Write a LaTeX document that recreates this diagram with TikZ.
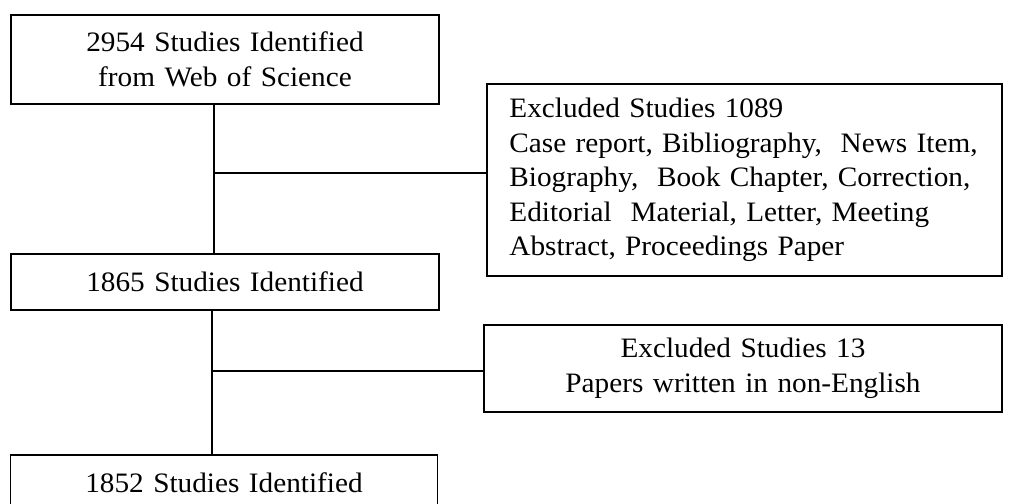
\documentclass[tikz,border=0pt]{standalone}
\usepackage{fontspec}
\setmainfont{Liberation Serif}[FakeStretch=1.04, WordSpace=1.3]
\usepackage{tikz}
\usetikzlibrary{calc}

\begin{document}
\begin{tikzpicture}[
        x=0.025cm, y=-0.025cm,
        boxnode/.style={rectangle, draw=black, line width=1pt, inner sep=0pt, align=center,
            font=\fontsize{20pt}{24.5pt}\selectfont},
        sidenode/.style={boxnode, align=left, text width=11.75cm}
        ]
            \useasboundingbox (0,0) rectangle (1014,504);

            \node[boxnode, minimum width=10.7cm, minimum height=2.225cm] (A) at (225,59.5) {2954 Studies Identified\\from Web of Science};
            \node[boxnode, minimum width=10.7cm, minimum height=1.4cm] (B) at (225,282) {1865 Studies Identified};
            \node[boxnode, minimum width=10.675cm, minimum height=1.4cm] (D) at (224,483) {1852 Studies Identified};
            \node[sidenode, minimum width=12.875cm, minimum height=4.8cm] (C) at (744.5,180) {Excluded Studies 1089\\Case report, Bibliography, \ News Item,\\Biography, \ Book Chapter, Correction,\\Editorial \ Material, Letter, Meeting\\Abstract, Proceedings Paper};
            \node[boxnode, minimum width=12.95cm, minimum height=2.175cm] (E) at (743,368.5) {Excluded Studies 13\\Papers written in non-English};

            \coordinate (J1) at (214,173);
            \coordinate (J2) at (212,371);

            \draw[line width=1pt] (A.south -| J1) -- (B.north -| J1);
            \draw[line width=1pt] (J1) -- (J1 -| C.west);
            \draw[line width=1pt] (B.south -| J2) -- (D.north -| J2);
            \draw[line width=1pt] (J2) -- (J2 -| E.west);

        \end{tikzpicture}
\end{document}
